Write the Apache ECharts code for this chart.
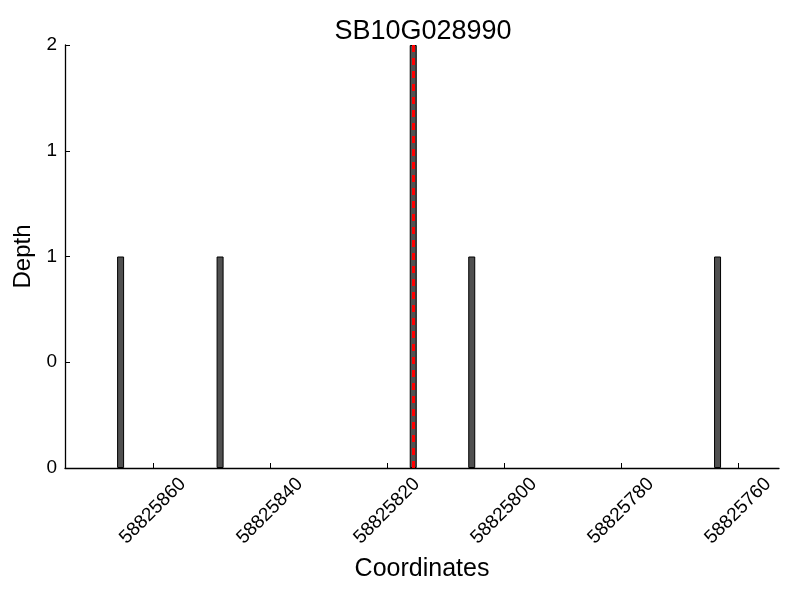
<!DOCTYPE html>
<html><head><meta charset="utf-8">
<script src="https://cdn.jsdelivr.net/npm/echarts@6/dist/echarts.min.js"></script>
<style>html,body{margin:0;padding:0;background:#fff}#c{width:800px;height:600px}</style>
</head><body><div id="c"></div>
<script>
const chartTitle = 'SB10G028990';
const xAxisTitle = 'Coordinates';
const yAxisTitle = 'Depth';
const positions = [58825865.5, 58825848.5, 58825815.5, 58825805.5, 58825763.5];
const depths = [1, 1, 2, 1, 1];
const markerPosition = 58825815.5;
const markerDepth = [0, 2];
const xTickValues = [58825860, 58825840, 58825820, 58825800, 58825780, 58825760];
const yTickValues = [0, 0.5, 1, 1.5, 2];
const yTickLabels = ['0', '0', '1', '1', '2'];
const xRange = [58825753, 58825875];
const yRange = [0, 2];

const FONT = 'Liberation Sans';
const chart = echarts.init(document.getElementById('c'), null, {renderer: 'canvas'});
chart.setOption({
  backgroundColor: '#fff',
  animation: false,
  title: {
    text: chartTitle, left: 418, top: 13, textAlign: 'center',
    textStyle: {fontFamily: FONT, fontSize: 27, fontWeight: 'normal', color: '#000'}
  },
  grid: {left: 65, right: 21, top: 45, bottom: 132, containLabel: false},
  xAxis: {
    type: 'value', inverse: true, min: xRange[0], max: xRange[1],
    name: xAxisTitle, nameLocation: 'middle', nameGap: 89,
    nameTextStyle: {fontFamily: FONT, fontSize: 25, color: '#000'},
    axisLine: {show: true, lineStyle: {color: '#000', width: 1.3}},
    axisTick: {show: true, inside: true, length: 5, customValues: xTickValues, lineStyle: {color: '#000'}},
    axisLabel: {
      customValues: xTickValues, rotate: 45, align: 'center', verticalAlign: 'middle', margin: 43,
      fontFamily: FONT, fontSize: 19, color: '#000',
      formatter: v => String(v)
    },
    splitLine: {show: false}
  },
  yAxis: {
    type: 'value', min: yRange[0], max: yRange[1], interval: 0.5,
    name: yAxisTitle, nameLocation: 'middle', nameGap: 28,
    nameTextStyle: {fontFamily: FONT, fontSize: 24, color: '#000'},
    axisLine: {show: true, lineStyle: {color: '#000', width: 1.3}},
    axisTick: {show: true, inside: true, length: 5, lineStyle: {color: '#000'}},
    axisLabel: {
      margin: 8, fontFamily: FONT, fontSize: 19, color: '#000',
      formatter: v => { const i = yTickValues.indexOf(v); return i >= 0 ? yTickLabels[i] : ''; }
    },
    splitLine: {show: false}
  },
  series: [{
    type: 'bar',
    data: positions.map((p, i) => [p, depths[i]]),
    barWidth: 7,
    itemStyle: {color: '#505050', borderColor: '#000', borderWidth: 1},
    markLine: {
      silent: true, symbol: 'none', label: {show: false},
      lineStyle: {color: '#ff0000', type: [7, 6], width: 3},
      data: [[{coord: [markerPosition, markerDepth[0]]}, {coord: [markerPosition, markerDepth[1]]}]]
    }
  }]
});
</script>
</body></html>
